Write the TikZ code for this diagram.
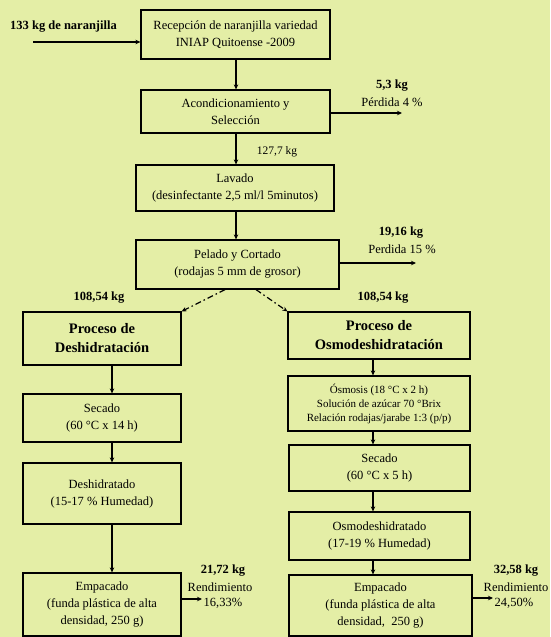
\documentclass[tikz,border=0pt]{standalone}
\usepackage{fontspec}
\setmainfont{Liberation Serif}
\usetikzlibrary{arrows.meta}
\definecolor{bgc}{RGB}{228,238,166}
\begin{document}
\begin{tikzpicture}[x=1pt,y=-1pt,
  box/.style={draw=black, line width=1.2pt, inner sep=0pt, align=center, font=\fontsize{12.5}{17}\selectfont},
  bbox/.style={box, font=\fontsize{14.5}{19}\selectfont\bfseries},
  sbox/.style={box, font=\fontsize{11}{14}\selectfont},
  arr/.style={-{Stealth[length=5pt,width=4.5pt]}, line width=1.2pt},
  darr/.style={arr, dash pattern=on 6pt off 3pt on 1.5pt off 3pt},
  lab/.style={inner sep=0pt, font=\fontsize{12.5}{15}\selectfont},
  blab/.style={inner sep=0pt, font=\fontsize{12.5}{15}\selectfont\bfseries}]
\fill[bgc] (0,0) rectangle (550,637);
\useasboundingbox (0,0) rectangle (550,637);

% main column
\node[box, minimum width=189pt, minimum height=49pt] (rec) at (235.5,34.5) {Recepción de naranjilla variedad\\INIAP Quitoense -2009};
\node[box, minimum width=189pt, minimum height=43pt] (aco) at (235.5,111.5) {Acondicionamiento y\\Selección};
\node[box, minimum width=198pt, minimum height=46pt] (lav) at (235,188) {Lavado\\(desinfectante 2,5 ml/l 5minutos)};
\node[box, minimum width=203pt, minimum height=49pt] (pel) at (237.5,264.5) {Pelado y Cortado\\(rodajas 5 mm de grosor)};

% left column
\node[bbox, minimum width=158pt, minimum height=53pt] (pdes) at (102,338.5) {Proceso de\\Deshidratación};
\node[box, minimum width=158pt, minimum height=48pt] (sec1) at (102,418) {Secado\\(60 °C x 14 h)};
\node[box, minimum width=158pt, minimum height=61pt] (des) at (102,493.5) {Deshidratado\\(15-17 \% Humedad)};
\node[box, minimum width=158pt, minimum height=63pt] (emp1) at (102,604.5) {Empacado\\(funda plástica de alta\\densidad, 250 g)};

% right column
\node[bbox, minimum width=182pt, minimum height=47pt] (posm) at (379,335.5) {Proceso de\\Osmodeshidratación};
\node[sbox, minimum width=182pt, minimum height=55pt] (osm) at (379,403.5) {Ósmosis (18 °C x 2 h)\\Solución de azúcar 70 °Brix\\Relación rodajas/jarabe 1:3 (p/p)};
\node[box, minimum width=181pt, minimum height=46pt] (sec2) at (379.5,468) {Secado\\(60 °C x 5 h)};
\node[box, minimum width=181pt, minimum height=48pt] (osmd) at (379.5,536) {Osmodeshidratado\\(17-19 \% Humedad)};
\node[box, minimum width=183pt, minimum height=61pt] (emp2) at (380.5,605.5) {Empacado\\(funda plástica de alta\\densidad,\ \ 250 g)};

% labels
\node[blab] (tin) at (63.5,27) {133 kg de naranjilla};
\node[blab] (t53) at (392,86) {5,3 kg};
\node[lab] (tp4) at (392,102) {Pérdida 4 \%};
\node[lab, font=\fontsize{11.5}{14}\selectfont] (t127) at (277,152) {127,7 kg};
\node[blab] (t1916) at (401,233) {19,16 kg};
\node[lab] (tp15) at (402,249) {Perdida 15 \%};
\node[blab] (tl108) at (99,298) {108,54 kg};
\node[blab] (tr108) at (383,298) {108,54 kg};
\node[blab] (t2172) at (223,571) {21,72 kg};
\node[lab] (tren1) at (220,587) {Rendimiento};
\node[lab] (t1633) at (223,603) {16,33\%};
\node[blab] (t3258) at (516,571) {32,58 kg};
\node[lab] (tren2) at (516,587) {Rendimiento};
\node[lab] (t2450) at (514,603) {24,50\%};

% helper coordinates
\coordinate (in0) at (33,42);
\coordinate (mc) at (236,0);
\coordinate (lc) at (112,0);
\coordinate (rc) at (373,0);
\coordinate (o1) at (402,113);
\coordinate (o2) at (416,263);
\coordinate (o3) at (202,599);
\coordinate (o4) at (493,598);

% connectors
\draw[arr] (in0) -- (rec.west |- in0);
\draw[arr] (mc |- rec.south) -- (mc |- aco.north);
\draw[arr] (mc |- aco.south) -- (mc |- lav.north);
\draw[arr] (mc |- lav.south) -- (mc |- pel.north);
\draw[arr] (aco.east |- o1) -- (o1);
\draw[arr] (pel.east |- o2) -- (o2);
\draw[darr] ([xshift=-12.5pt]pel.south) -- (pdes.north east);
\draw[darr] ([xshift=18.5pt]pel.south) -- (posm.north west);

\draw[arr] (lc |- pdes.south) -- (lc |- sec1.north);
\draw[arr] (lc |- sec1.south) -- (lc |- des.north);
\draw[arr] (lc |- des.south) -- (lc |- emp1.north);
\draw[arr] (emp1.east |- o3) -- (o3);

\draw[arr] (rc |- posm.south) -- (rc |- osm.north);
\draw[arr] (rc |- osm.south) -- (rc |- sec2.north);
\draw[arr] (rc |- sec2.south) -- (rc |- osmd.north);
\draw[arr] (rc |- osmd.south) -- (rc |- emp2.north);
\draw[arr] (emp2.east |- o4) -- (o4);
\end{tikzpicture}
\end{document}
